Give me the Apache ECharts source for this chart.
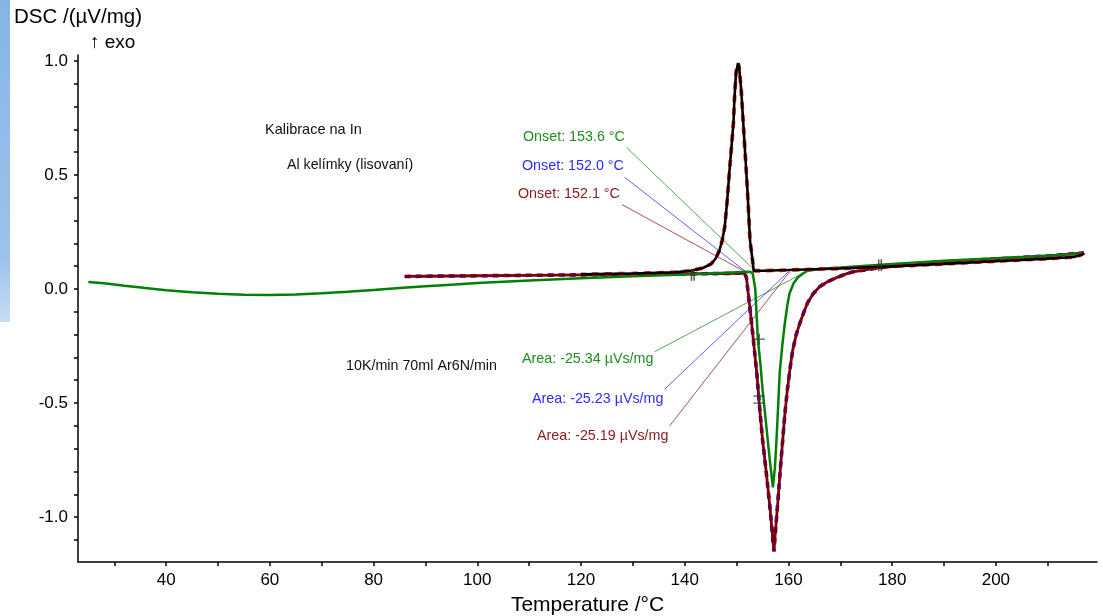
<!DOCTYPE html>
<html>
<head>
<meta charset="utf-8">
<script src="https://cdn.jsdelivr.net/npm/echarts@6/dist/echarts.min.js"></script>
<style>
html, body { margin: 0; padding: 0; background: #fff; }
#chart { width: 1103px; height: 616px; }
</style>
</head>
<body>
<div id="chart"></div>
<script>
// DSC kalibrace na In - [T /°C, DSC /(µV/mg)]
const heatGreen = [
  [25, 0.031], [28, 0.025], [32, 0.014], [36, 0.004], [40, -0.005], [45, -0.014],
  [50, -0.021], [55, -0.025], [60, -0.026], [65, -0.024], [70, -0.019], [75, -0.012],
  [80, -0.004], [85, 0.004], [90, 0.012], [95, 0.019], [100, 0.026], [110, 0.037],
  [120, 0.047], [130, 0.056], [140, 0.064], [145, 0.068], [150, 0.073], [152.5, 0.076],
  [153.1, 0.07], [153.6, 0.0], [154.1, -0.22], [154.6, -0.33], [155.0, -0.44], [155.5, -0.55],
  [156.0, -0.66], [156.5, -0.77], [157.0, -0.87], [157.4, -0.78], [157.7, -0.66], [158.0, -0.52],
  [158.3, -0.37], [158.8, -0.25], [159.3, -0.15], [159.8, -0.07], [160.2, -0.02], [161.0, 0.025],
  [161.8, 0.05], [162.8, 0.068], [163.7, 0.08], [166, 0.088], [170, 0.094], [180, 0.11],
  [190, 0.124], [200, 0.135], [210, 0.146], [217, 0.156]
];
const heatBlue = [
  [86, 0.055], [90, 0.056], [100, 0.058], [110, 0.06], [120, 0.062], [130, 0.064],
  [140, 0.066], [148, 0.068], [151.5, 0.07], [151.9, 0.05], [152.4, -0.05], [152.9, -0.15],
  [153.4, -0.26], [153.9, -0.37], [154.4, -0.51], [155.0, -0.66], [155.7, -0.8], [156.4, -0.95],
  [156.8, -1.05], [157.2, -1.15], [157.5, -1.06], [157.9, -0.95], [158.4, -0.8], [158.9, -0.66],
  [159.3, -0.55], [159.8, -0.44], [160.3, -0.35], [160.8, -0.27], [161.5, -0.2], [162.2, -0.15],
  [163.0, -0.1], [163.7, -0.06], [164.8, -0.02], [166.0, 0.01], [167.6, 0.033], [169.3, 0.05],
  [171.0, 0.065], [172.4, 0.075], [176, 0.088], [180, 0.1], [190, 0.118], [200, 0.132],
  [210, 0.145], [217, 0.158]
];
const heatRed = heatBlue.map(function (p) { return [p[0], p[1]]; });
const coolBlack = [
  [217, 0.158], [216.5, 0.15], [215, 0.14], [210, 0.133], [200, 0.122], [190, 0.11],
  [180, 0.099], [170, 0.09], [160, 0.083], [155, 0.08], [153.3, 0.08], [153.0, 0.14],
  [152.6, 0.21], [152.1, 0.43], [151.5, 0.65], [150.9, 0.87], [150.5, 0.97], [150.3, 0.99],
  [149.9, 0.95], [149.6, 0.84], [149.4, 0.73], [149.0, 0.62], [148.6, 0.51], [148.2, 0.39],
  [147.7, 0.27], [147.2, 0.21], [146.7, 0.17], [146.0, 0.135], [145.1, 0.11], [143.5, 0.092],
  [141.2, 0.08], [138, 0.073], [130, 0.068], [120, 0.064]
];
// znacky vyhodnoceni (krizky na krivkach a hranice integrace)
const crossMarks = [[154.4, -0.22], [154.3, -0.47], [154.3, -0.5]];
const limitMarks = [[141.3, 0.062], [141.8, 0.062], [177.4, 0.104], [177.9, 0.104]];
const xLabels = [40, 60, 80, 100, 120, 140, 160, 180, 200];
const xTicks = [30, 40, 50, 60, 70, 80, 90, 100, 110, 120, 130, 140, 150, 160, 170, 180, 190, 200, 210];
const yLabels = [-1.0, -0.5, 0.0, 0.5, 1.0];
const yTicks = [-1.1, -1.0, -0.9, -0.8, -0.7, -0.6, -0.5, -0.4, -0.3, -0.2, -0.1, 0, 0.1, 0.2, 0.3, 0.4, 0.5, 0.6, 0.7, 0.8, 0.9, 1.0];
// vyhodnoceni: [text, barva, kotva popisu, bod na krivce]
const onsetNotes = [
  ['Onset: 153.6 °C', '#1e8c1e', [128.8, 0.62], [153.6, 0.08]],
  ['Onset: 152.0 °C', '#2b2bff', [128.4, 0.49], [152.0, 0.072]],
  ['Onset: 152.1 °C', '#8b1a1a', [127.9, 0.37], [152.1, 0.07]]
];
const areaNotes = [
  ['Area: -25.34 µVs/mg', '#1e8c1e', [134.2, -0.275], [163.7, 0.08]],
  ['Area: -25.23 µVs/mg', '#2b2bff', [136.1, -0.44], [160.2, 0.08]],
  ['Area: -25.19 µVs/mg', '#8b1a1a', [137.1, -0.6], [160.2, 0.075]]
];

const font = 'Liberation Sans, Arial, sans-serif';
const chart = echarts.init(document.getElementById('chart'));

function leader(note, lineColor) {
  return {
    type: 'line', data: [note[2], note[3]], showSymbol: false, silent: true,
    lineStyle: { color: lineColor, width: 1, opacity: 0.75 }, z: 1
  };
}

const series = [
  { type: 'line', data: heatBlue, showSymbol: false, lineStyle: { color: '#0000ff', width: 3.6, type: [6, 5] }, z: 2 },
  { type: 'line', data: heatRed, showSymbol: false, lineStyle: { color: '#800000', width: 2.8 }, z: 3 },
  { type: 'line', data: heatGreen, showSymbol: false, lineStyle: { color: '#008000', width: 2.5 }, z: 4 },
  { type: 'line', data: coolBlack, showSymbol: false, lineStyle: { color: '#ff2020', width: 3.8, type: [7, 6] }, z: 5 },
  { type: 'line', data: coolBlack, showSymbol: false, lineStyle: { color: '#000000', width: 2.6 }, z: 6 },
  { type: 'scatter', data: crossMarks, symbol: 'path://M0,5L10,5M5,0L5,10', symbolSize: 11, silent: true,
    itemStyle: { color: 'none', borderColor: '#333', borderWidth: 1.2 }, z: 7 },
  { type: 'scatter', data: limitMarks, symbol: 'rect', symbolSize: [1.5, 12], silent: true,
    itemStyle: { color: '#333' }, z: 7 }
];
onsetNotes.forEach(function (n) { series.push(leader(n, n[1])); });
areaNotes.forEach(function (n) { series.push(leader(n, n[1])); });

const graphic = [
  { type: 'rect', left: 0, top: 0, shape: { width: 10, height: 322 },
    style: { fill: new echarts.graphic.LinearGradient(0, 0, 0, 1, [
      { offset: 0, color: '#86b4e6' }, { offset: 0.8, color: '#9cc2ec' }, { offset: 1, color: '#c7dcf3' }]) } },
  { type: 'text', left: 14, top: 7, style: { text: 'DSC /(µV/mg)', font: '20.5px ' + font, fill: '#000' } },
  { type: 'text', left: 90, top: 33, style: { text: '↑ exo', font: '19px ' + font, fill: '#000' } },
  { type: 'text', left: 265, top: 122, style: { text: 'Kalibrace na In', font: '14.5px ' + font, fill: '#111' } },
  { type: 'text', left: 287, top: 158, style: { text: 'Al kelímky (lisovaní)', font: '14.2px ' + font, fill: '#111' } },
  { type: 'text', left: 346, top: 359, style: { text: '10K/min 70ml Ar6N/min', font: '14.3px ' + font, fill: '#111' } }
];
const labelPos = [[523, 130], [522, 159], [518, 187]];
onsetNotes.forEach(function (n, i) {
  graphic.push({ type: 'text', left: labelPos[i][0], top: labelPos[i][1], style: { text: n[0], font: '14.3px ' + font, fill: n[1] } });
});
const areaPos = [[522, 352], [532, 392], [537, 429]];
areaNotes.forEach(function (n, i) {
  graphic.push({ type: 'text', left: areaPos[i][0], top: areaPos[i][1], style: { text: n[0], font: '14.3px ' + font, fill: n[1] } });
});

chart.setOption({
  animation: false,
  backgroundColor: '#ffffff',
  grid: { left: 78, right: 6, top: 55, bottom: 54, outerBoundsMode: 'none', containLabel: false },
  xAxis: {
    type: 'value', min: 23, max: 219.5,
    name: 'Temperature /°C', nameLocation: 'middle', nameGap: 33,
    nameTextStyle: { color: '#000', fontSize: 21, fontFamily: 'Liberation Sans Narrow, Liberation Sans, Arial' },
    axisLine: { onZero: false, lineStyle: { color: '#000', width: 1.5 } },
    axisTick: { inside: false, customValues: xTicks, length: 4, lineStyle: { color: '#000', width: 1.5 } },
    axisLabel: { customValues: xLabels, color: '#000', fontSize: 17, fontFamily: font, margin: 10 },
    splitLine: { show: false }
  },
  yAxis: {
    type: 'value', min: -1.197, max: 1.026,
    axisLine: { show: true, onZero: false, lineStyle: { color: '#000', width: 1.5 } },
    axisTick: { show: true, inside: false, customValues: yTicks, length: 4, lineStyle: { color: '#000', width: 1.5 } },
    axisLabel: { customValues: yLabels, color: '#000', fontSize: 17, fontFamily: font, margin: 10,
      formatter: function (v) { return v.toFixed(1); } },
    splitLine: { show: false }
  },
  series: series,
  graphic: graphic
});
</script>
</body>
</html>
